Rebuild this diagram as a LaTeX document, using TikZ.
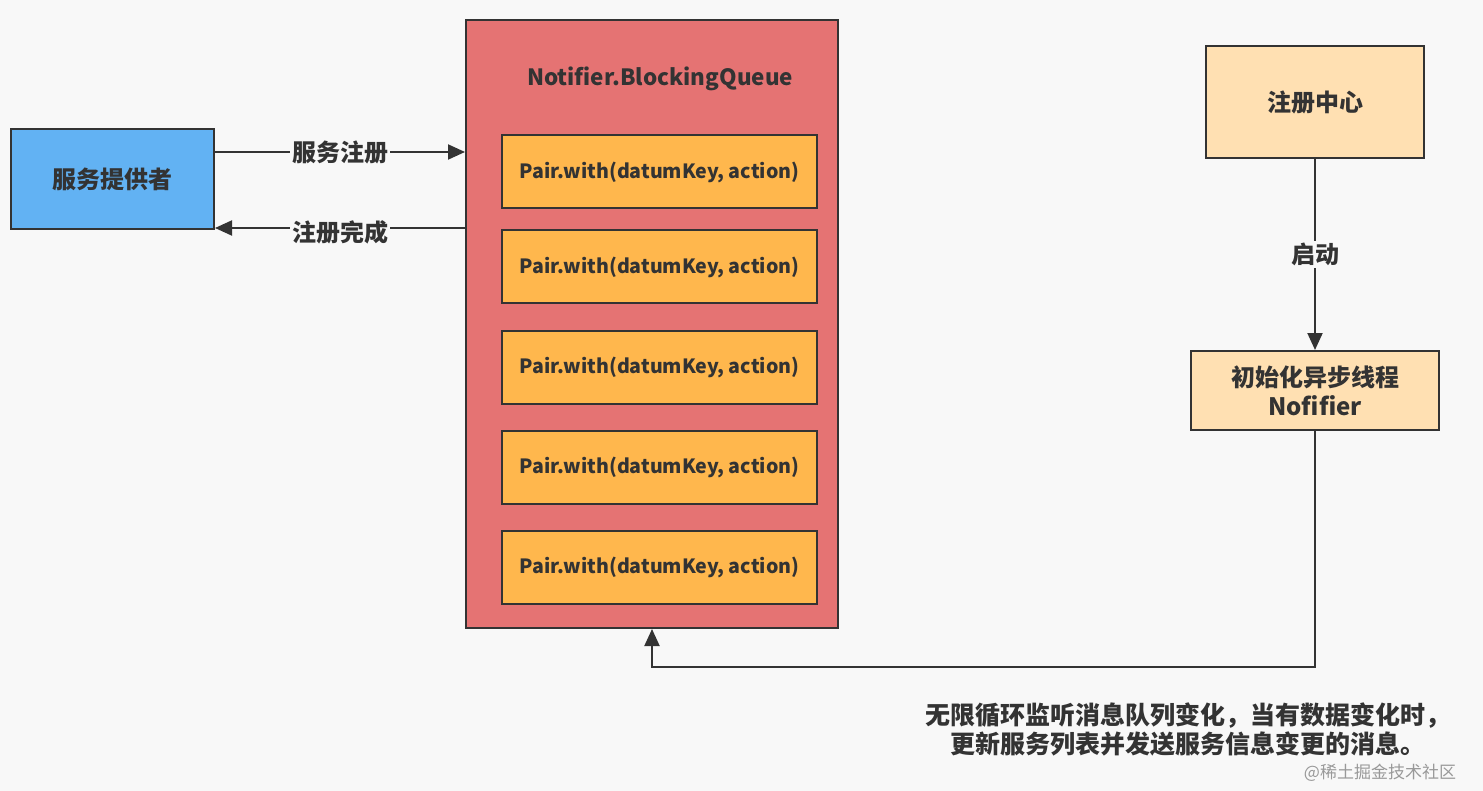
\documentclass[tikz,border=0pt]{standalone}
\usepackage{fontspec}
\setmainfont{Noto Sans CJK SC}
\usetikzlibrary{arrows.meta}
\definecolor{bgcol}{HTML}{F8F8F8}
\definecolor{inkcol}{HTML}{333333}
\definecolor{provcol}{HTML}{62B2F3}
\definecolor{queuecol}{HTML}{E57373}
\definecolor{paircol}{HTML}{FFB74D}
\definecolor{centercol}{HTML}{FFE0B2}
\tikzset{
  box/.style={draw=inkcol,line width=1pt,text=inkcol,font=\bfseries\fontsize{12}{14.5}\selectfont,align=center,inner sep=0pt},
  pairbox/.style={box,fill=paircol,minimum width=157.5pt,minimum height=36.5pt,font=\bfseries\fontsize{9.8}{12}\selectfont},
  conn/.style={draw=inkcol,line width=1pt,-{Triangle[length=8.5pt,width=7.5pt]}},
  lbl/.style={fill=bgcol,text=inkcol,font=\bfseries\fontsize{12}{14}\selectfont,inner sep=1pt}
}
\begin{document}
\begin{tikzpicture}[x=0.5pt,y=-0.5pt]
  \fill[bgcol] (0,0) rectangle (1483,791);
  \useasboundingbox (0,0) rectangle (1483,791);
  % left side
  \node[box,fill=provcol,minimum width=101.5pt,minimum height=50pt] (prov) at (112.5,179) {服务提供者};
  % queue
  \node[box,fill=queuecol,minimum width=186pt,minimum height=304pt] (queue) at (652,324) {};
  \node[text=inkcol,font=\bfseries\fontsize{11.2}{13}\selectfont] (qtitle) at (660,79) {Notifier.BlockingQueue};
  \foreach \i/\y in {1/172,2/267,3/367,4/467,5/567}
    \node[pairbox] (pair\i) at (659.5,\y) {Pair.with(datumKey, action)};
  % right side
  \node[box,fill=centercol,minimum width=109pt,minimum height=56pt] (center) at (1315,102) {注册中心};
  \node[box,fill=centercol,minimum width=124pt,minimum height=39.5pt] (init) at (1315,390.5) {初始化异步线程\\Nofifier};
  % connectors
  \draw[conn] (prov.east |- 0,152) -- node[lbl] {服务注册} (queue.west |- 0,152);
  \draw[conn] (queue.west |- 0,228) -- node[lbl,yshift=-2pt] {注册完成} (prov.east |- 0,228);
  \draw[conn] (center) -- node[lbl] {启动} (init);
  \draw[conn] (init.south) -- (init.south |- 0,667) -| (queue.south);
  \node[text=inkcol,align=center,font=\bfseries\fontsize{12.5}{14.5}\selectfont] (note) at (1188,729)
    {无限循环监听消息队列变化，当有数据变化时，\\更新服务列表并发送服务信息变更的消息。};
  \node[text=black!40,font=\fontsize{8.5}{10}\selectfont] (mark) at (1380,773) {@稀土掘金技术社区};
\end{tikzpicture}
\end{document}
